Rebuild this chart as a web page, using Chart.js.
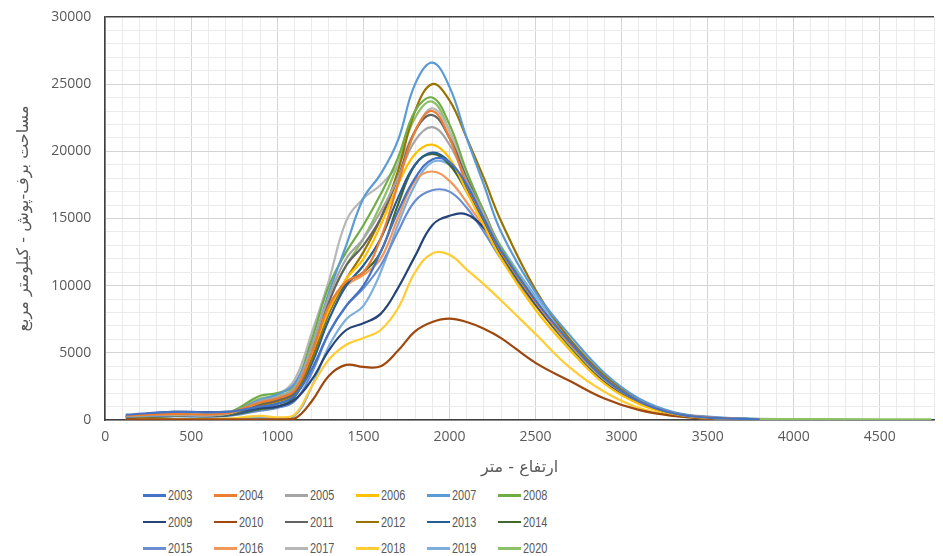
<!DOCTYPE html>
<html lang="fa">
<head>
  <meta charset="UTF-8" />
  <title>Snow cover area vs elevation</title>
  <script src="https://cdn.jsdelivr.net/npm/chart.js@4.4.0/dist/chart.umd.min.js"></script>
  <style>
    body { margin: 0; background: #fff; }
    .wrap { position: relative; width: 943px; height: 556px; overflow: hidden; }
    #chartBox { position: absolute; left: 0; top: 0; width: 943px; height: 482px; }
    #legend {
      position: absolute; left: 143px; top: 482px;
      display: grid; grid-template-columns: repeat(6, 71px); grid-auto-rows: 26.5px;
      font-family: 'Liberation Sans', sans-serif;
      font-size: 14px; color: #595959;
    }
    .item { display: flex; align-items: center; }
    .item span.line { display: inline-block; width: 23px; height: 2.5px; margin-right: 2px; }
    .item span.txt { display: inline-block; transform: scaleX(0.78); transform-origin: left center; }
  </style>
</head>
<body>
<div class="wrap">
  <div id="chartBox"><canvas id="snowChart"></canvas></div>
  <div id="legend"></div>
</div>

<script>
// elevation (m) sample points shared by all years
const elev = [120, 400, 700, 900, 1000, 1100, 1200, 1300, 1400, 1500, 1600, 1700, 1800, 1900, 2000, 2100, 2200, 2300, 2500, 2700, 2900, 3100, 3300, 3500, 3800, 4200, 4800];

const years = ['2003','2004','2005','2006','2007','2008','2009','2010','2011','2012','2013','2014','2015','2016','2017','2018','2019','2020'];

const s2003 = [400, 600, 600, 1000, 1200, 1800, 3800, 6500, 8500, 10000, 12500, 15500, 18000, 19400, 19200, 17500, 15000, 12600, 8900, 5800, 3100, 1400, 500, 180, 50, null, null];
const s2004 = [350, 450, 500, 1300, 1600, 2200, 5000, 8500, 10300, 11000, 13500, 17500, 21500, 23000, 21000, 17500, 15000, 12500, 8800, 5700, 3100, 1400, 500, 200, 50, null, null];
const s2005 = [300, 400, 450, 1400, 1700, 2400, 5500, 9200, 12000, 13500, 15500, 18000, 20800, 21800, 20500, 17800, 15300, 12600, 8800, 5600, 3000, 1400, 500, 180, 50, null, null];
const s2006 = [350, 400, 450, 1300, 1700, 2300, 5000, 8200, 10500, 12000, 14500, 17500, 19800, 20500, 19500, 17000, 14500, 12000, 8200, 5200, 2700, 1200, 450, 150, 40, null, null];
const s2007 = [250, 350, 450, 1500, 1900, 2700, 5500, 9500, 13000, 16500, 18300, 20800, 25000, 26600, 24800, 21000, 17500, 14000, 9500, 6300, 3500, 1600, 600, 250, 60, null, null];
const s2008 = [300, 400, 500, 1800, 2000, 2600, 6000, 10000, 12500, 14500, 16800, 19500, 23000, 24000, 22000, 18500, 15500, 12800, 8900, 5600, 3000, 1400, 500, 180, 50, null, null];
const s2009 = [300, 600, 600, 900, 1000, 1500, 3000, 5200, 6700, 7200, 7900, 9800, 12200, 14500, 15200, 15300, 14300, 12600, 8700, 5600, 2900, 1300, 450, 150, 40, null, null];
const s2010 = [50, 50, 50, 50, 50, 100, 1400, 3300, 4100, 3950, 4000, 5150, 6600, 7300, 7550, 7300, 6800, 6100, 4250, 2900, 1600, 750, 300, 100, 30, null, null];
const s2011 = [250, 350, 400, 1200, 1500, 2100, 5200, 8800, 11500, 13000, 15000, 18000, 21500, 22700, 21000, 18000, 15500, 12700, 8800, 5600, 3000, 1400, 500, 180, 50, null, null];
const s2012 = [200, 300, 400, 1100, 1400, 2000, 4500, 8000, 10500, 12500, 15000, 18500, 23000, 25000, 23800, 21000, 18000, 14800, 9700, 6000, 3300, 1500, 550, 200, 50, null, null];
const s2013 = [200, 300, 350, 900, 1200, 1800, 4200, 7500, 10000, 11500, 13500, 16500, 19000, 19900, 19200, 17200, 14800, 12400, 8700, 5600, 3000, 1400, 500, 180, 50, null, null];
const s2014 = [200, 300, 350, 800, 1000, 1700, 4500, 8000, 10200, 11000, 12500, 16000, 19000, 19800, 19000, 17000, 14700, 12300, 8600, 5500, 2900, 1300, 450, 150, 40, null, null];
const s2015 = [200, 300, 300, 700, 900, 1400, 3500, 6500, 8500, 9800, 11500, 14000, 16300, 17100, 17000, 15800, 14000, 12000, 8600, 5600, 3000, 1400, 500, 180, 50, null, null];
const s2016 = [300, 400, 450, 1100, 1400, 2000, 4500, 8000, 10000, 10800, 12000, 15000, 17800, 18500, 17800, 16200, 14300, 12000, 8500, 5500, 2900, 1300, 450, 150, 40, null, null];
const s2017 = [300, 400, 450, 1500, 1900, 3000, 6500, 10400, 14800, 16500, 17500, 19000, 21500, 23200, 21500, 18000, 15200, 12500, 8700, 5500, 2900, 1300, 450, 150, 40, null, null];
const s2018 = [50, 50, 100, 300, 200, 400, 2500, 4500, 5600, 6100, 6700, 8300, 11000, 12400, 12300, 11200, 10100, 8900, 6400, 3900, 2100, 900, 350, 120, 30, null, null];
const s2019 = [100, 100, 100, 150, 150, 300, 2500, 5500, 7500, 8500, 11000, 14500, 17500, 19200, 19000, 17500, 15200, 12900, 9200, 6000, 3300, 1500, 550, 200, 60, null, null];
const s2020 = [300, 400, 450, 1600, 1800, 2400, 5500, 9000, 11500, 13500, 16000, 19000, 22500, 23700, 21500, 18000, 15000, 12300, 8600, 5400, 2900, 1300, 500, 200, 80, 60, 40];

const series = [s2003, s2004, s2005, s2006, s2007, s2008, s2009, s2010, s2011, s2012, s2013, s2014, s2015, s2016, s2017, s2018, s2019, s2020];

// office palette
const colors = ['#4472C4','#ED7D31','#A5A5A5','#FFC000','#5B9BD5','#70AD47',
                '#264478','#9E480E','#636363','#997300','#255E91','#43682B',
                '#698ED0','#F1975A','#B7B7B7','#FFCD33','#7CAFDD','#8CC168'];

const xTitle = 'ارتفاع - متر';
const yTitle = 'مساحت برف-پوش - کیلومتر مربع';

const datasets = years.map((yr, i) => ({
  label: yr,
  data: elev.map((x, j) => ({ x: x, y: series[i][j] })).filter(p => p.y !== null),
  borderColor: colors[i],
  backgroundColor: colors[i],
  borderWidth: 2.2,
  pointRadius: 0,
  fill: false,
  tension: 0.4
}));

const axisColor = '#404040';
const tickFont = { family: "'Open Sans', 'Liberation Sans', sans-serif", size: 14 };
const titleFont = { family: "'DejaVu Sans', sans-serif", size: 16 };

new Chart(document.getElementById('snowChart'), {
  type: 'line',
  data: { datasets },
  options: {
    responsive: true,
    maintainAspectRatio: false,
    animation: false,
    layout: { padding: { top: 5, left: 14, right: 0, bottom: 5 } },
    plugins: { legend: { display: false }, tooltip: { enabled: false } },
    scales: {
      x: {
        type: 'linear',
        min: 0,
        max: 4815,
        border: { color: axisColor, width: 1.6 },
        grid: {
          drawTicks: false,
          color: c => (c.tick.value % 500 === 0 ? '#d4d4d4' : '#ebebeb'),
          lineWidth: 1
        },
        ticks: {
          stepSize: 100,
          autoSkip: false,
          maxRotation: 0,
          padding: 9,
          color: '#595959',
          font: tickFont,
          callback: v => (v % 500 === 0 ? v : '')
        },
        title: { display: true, text: xTitle, color: '#595959', font: titleFont, padding: { top: 3, bottom: 0 } }
      },
      y: {
        min: 0,
        max: 30000,
        border: { color: axisColor, width: 1.6 },
        grid: {
          drawTicks: false,
          color: c => (c.tick.value === 30000 ? axisColor : (c.tick.value % 5000 === 0 ? '#d4d4d4' : '#ebebeb')),
          lineWidth: c => (c.tick.value === 30000 ? 1.6 : 1)
        },
        ticks: {
          stepSize: 1000,
          autoSkip: false,
          padding: 14,
          color: '#595959',
          font: tickFont,
          callback: v => (v % 5000 === 0 ? v : '')
        },
        title: { display: true, text: yTitle, color: '#595959', font: titleFont, padding: { top: 0, bottom: 4 } }
      }
    }
  },
  plugins: [{
    // pull the plot top up to where the reference has it
    id: 'topFix',
    afterLayout(chart) {
      const a = chart.chartArea;
      const y = chart.scales.y;
      const shift = a.top - 17;
      if (shift > 0) {
        a.top -= shift;
        a.height += shift;
        y.top -= shift;
        y.height += shift;
        y.configure();
      }
    }
  }]
});

// legend in six columns like the original
const legend = document.getElementById('legend');
years.forEach((yr, i) => {
  const item = document.createElement('div');
  item.className = 'item';
  item.innerHTML = '<span class="line" style="background:' + colors[i] + '"></span><span class="txt">' + yr + '</span>';
  legend.appendChild(item);
});
</script>
</body>
</html>
